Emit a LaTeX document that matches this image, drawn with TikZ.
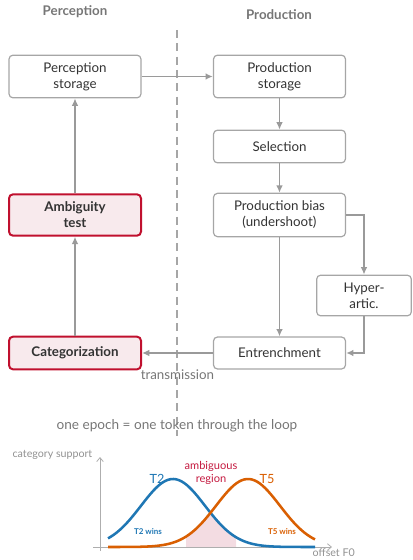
\documentclass[tikz,border=0pt]{standalone}
\usepackage{fontspec}
\setmainfont{Lato}
\usetikzlibrary{arrows.meta,positioning}
\definecolor{boxgrey}{HTML}{A6A6A6}
\definecolor{txtgrey}{HTML}{333333}
\definecolor{headgrey}{HTML}{767676}
\definecolor{flowgrey}{HTML}{9A9A9A}
\definecolor{catred}{HTML}{C0102E}
\definecolor{catfill}{HTML}{F8EAED}
\definecolor{tblue}{HTML}{1F77B4}
\definecolor{torange}{HTML}{D95F02}
\definecolor{ambred}{HTML}{C4193F}
\definecolor{ambfill}{HTML}{F3DCE2}

\begin{document}
\begin{tikzpicture}[x=0.75pt,y=-0.75pt,
  box/.style={draw=boxgrey,line width=0.9pt,rounded corners=3pt,fill=white,
    text=txtgrey,align=center,font=\fontsize{10}{12}\selectfont,
    minimum width=99pt,inner sep=2pt},
  catbox/.style={box,draw=catred,fill=catfill,line width=1.5pt,font=\fontsize{10}{12}\selectfont\bfseries},
  flow/.style={draw=flowgrey,line width=1.1pt,-{Latex[length=5.5pt,width=5pt]}},
  head/.style={text=headgrey,font=\fontsize{10}{11}\selectfont\bfseries},
  axis/.style={draw=flowgrey!80,line width=0.6pt,-{Straight Barb[length=3pt,width=5pt]}}]
\useasboundingbox (0,0) rectangle (413,560);
% Columns
\node[head] (hperc) at (75,12) {Perception};
\node[head] (hprod) at (279,15) {Production};
\draw[boxgrey,line width=0.8pt,dash pattern=on 6pt off 4pt] (177,30) -- (177,436);
% Boxes
\node[box,minimum height=32pt] (pstore) at (75,76.5) {Perception\\storage};
\node[box,minimum height=32pt] (prodstore) at (279.5,76.5) {Production\\storage};
\node[box,minimum height=24.5pt] (select) at (279.5,146.5) {Selection};
\node[box,minimum height=32.5pt] (pbias) at (279.5,215) {Production bias\\(undershoot)};
\node[box,minimum width=71pt,minimum height=30.5pt] (hyper) at (364,295.5) {Hyper-\\artic.};
\node[box,minimum height=24pt] (entr) at (279.5,353) {Entrenchment};
\node[catbox,minimum height=24.5pt] (categ) at (75,353) {Categorization};
\node[catbox,minimum height=31pt] (ambig) at (75,215) {Ambiguity\\test};
% Connectors
\draw[flow] (pstore) -- (prodstore);
\draw[flow] (prodstore) -- (select);
\draw[flow] (select) -- (pbias);
\draw[flow] (pbias) -- (entr);
\draw[flow] (pbias.east) -| (hyper.north);
\draw[flow] (hyper.south) |- (entr.east);
\draw[flow] (entr) -- node[below=8.5pt,text=headgrey,font=\fontsize{10}{11}\selectfont] (trans) {transmission} (categ);
\draw[flow] (categ) -- (ambig);
\draw[flow] (ambig) -- (pstore);
\node[text=headgrey,font=\fontsize{10.2}{11}\selectfont] (epoch) at (177,426) {one epoch = one token through the loop};
% Plot
\fill[ambfill] (186,547) -- plot[domain=186:236,samples=40] (\x,{547-68*exp(-0.5*(max(\x-173,248-\x)/32)^2)}) -- (236,547) -- cycle;
\draw[axis] (100,551) -- (100,457);
\draw[axis] (93,547) -- (332,547);
\node[text=headgrey!80,font=\fontsize{8}{9}\selectfont,anchor=east] (ylab) at (97,455) {category support};
\node[text=headgrey!80,font=\fontsize{8}{9}\selectfont,anchor=west] (xlab) at (308,553) {offset F0};
\draw[tblue,line width=1.9pt] plot[domain=108:315,samples=80,smooth] (\x,{547-68*exp(-0.5*((\x-173)/32)^2)});
\draw[torange,line width=1.9pt] plot[domain=108:315,samples=80,smooth] (\x,{547-68*exp(-0.5*((\x-248)/32)^2)});
\node[text=tblue,font=\fontsize{9.5}{10}\selectfont] (t2) at (157,479) {T2};
\node[text=torange,font=\fontsize{9.5}{10}\selectfont] (t5) at (267,479) {T5};
\node[text=ambred,align=center,font=\fontsize{8.3}{9.5}\selectfont] (amb) at (211,473) {ambiguous\\region};
\node[text=tblue,font=\fontsize{6}{7}\selectfont\bfseries] (t2w) at (148,532) {T2 wins};
\node[text=torange,font=\fontsize{6}{7}\selectfont\bfseries] (t5w) at (282,532) {T5 wins};
\end{tikzpicture}
\end{document}
